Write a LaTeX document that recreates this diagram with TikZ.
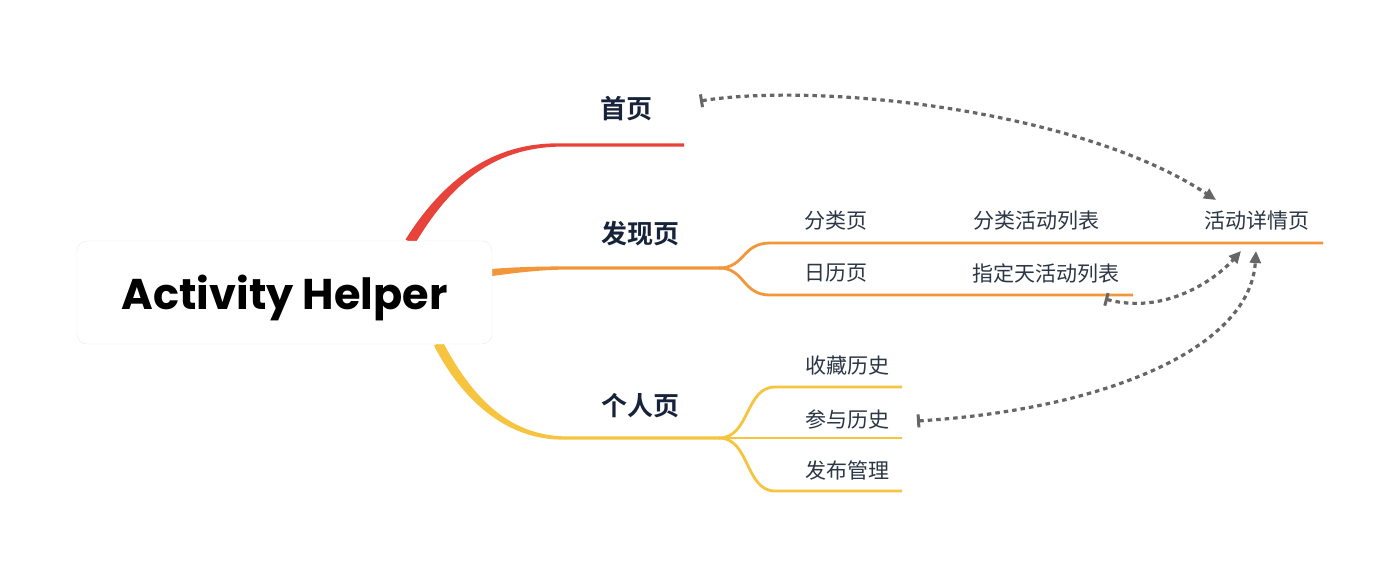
\documentclass[tikz,border=0pt]{standalone}
\usepackage{fontspec}
\setmainfont{Poppins}
\newfontfamily\cjk{Noto Sans CJK SC}
\newfontfamily\cjkb{Noto Sans CJK SC Bold}
\usetikzlibrary{arrows.meta}
\definecolor{cred}{HTML}{E8433A}
\definecolor{corange}{HTML}{F2963A}
\definecolor{cyellow}{HTML}{F6C43F}
\definecolor{navy}{HTML}{17233A}
\definecolor{subtxt}{HTML}{2B3646}
\definecolor{dotgray}{HTML}{666666}
\tikzset{
  mainlbl/.style={font=\cjkb\fontsize{26}{30}\selectfont, text=navy, inner sep=0pt},
  sublbl/.style={font=\cjk\fontsize{21}{25}\selectfont, text=subtxt, inner sep=0pt},
  link/.style={draw=dotgray, line width=3.2pt, dash pattern=on 4.5pt off 4pt,
    {Bar[width=13pt,line width=3pt]}-{Triangle[length=12pt,width=11pt]}},
  obranch/.style={draw=corange, line width=2.8pt},
  ybranch/.style={draw=cyellow, line width=2.8pt},
}
\begin{document}
\begin{tikzpicture}[x=1pt,y=-1pt]
\useasboundingbox[fill=white] (0,0) rectangle (1400,570);

% red branch (tapered)
\fill[cred] (405.5,239.5) .. controls (441.5,182.5) and (490,142.2) .. (560,143.4)
  -- (684,143.4) -- (684,146.6) -- (560,146.6)
  .. controls (490,147.8) and (448.5,187.5) .. (414.5,244.5) -- cycle;
% yellow branch (tapered)
\fill[cyellow] (434,345.5) .. controls (460.5,397.5) and (505,440.8) .. (565,439.6)
  -- (720,439.6) -- (720,436.4) -- (565,436.4)
  .. controls (505,435.2) and (469.5,392.5) .. (442,340.5) -- cycle;
% orange branch (tapered)
\fill[corange] (492,269) .. controls (515,267) and (540,266.4) .. (568,266.4)
  -- (720,266.4) -- (720,269.6) -- (568,269.6)
  .. controls (540,269.6) and (515,273) .. (492,276) -- cycle;

% central node
\node[draw=black!8, fill=white, rounded corners=10pt, minimum width=415pt,
  minimum height=103pt, inner sep=0pt, text depth=0pt,
  font=\bfseries\fontsize{43}{50}\selectfont] (root) at (284.5,292.5) {\raisebox{-0.5pt}{Activity Helper}};

% main labels
\node[mainlbl] (home) at (626,109) {首页};
\node[mainlbl] (discover) at (640,234) {发现页};
\node[mainlbl] (personal) at (640,406) {个人页};

% orange sub-branches
\coordinate (osplit) at (719,268);
\draw[obranch] (osplit) .. controls (745,268) and (742,243) .. (770,243) -- (1323,243);
\draw[obranch] (osplit) .. controls (745,268) and (742,295) .. (770,295) -- (1133,295);
% yellow sub-branches
\coordinate (ysplit) at (719,438);
\draw[ybranch] (ysplit) .. controls (750,438) and (745,387) .. (775,387) -- (902,387);
\draw[ybranch] (ysplit) -- (902,438);
\draw[ybranch] (ysplit) .. controls (750,438) and (745,491) .. (775,491) -- (902,491);

% sub labels
\node[sublbl] (cat) at (836,221) {分类页};
\node[sublbl] (catlist) at (1036,221) {分类活动列表};
\node[sublbl] (detail) at (1257,221) {活动详情页};
\node[sublbl] (cal) at (836,273) {日历页};
\node[sublbl] (daylist) at (1046,273) {指定天活动列表};
\node[sublbl] (fav) at (847,366) {收藏历史};
\node[sublbl] (joined) at (847,419) {参与历史};
\node[sublbl] (manage) at (847,471) {发布管理};

% link end points
\coordinate (homeR) at (700,101);
\coordinate (detailTL) at (1216,200);
\coordinate (daylistB) at (1105,299);
\coordinate (detailB1) at (1241,251);
\coordinate (joinedR) at (917,421);
\coordinate (detailB2) at (1256,251);

\draw[link] (homeR) .. controls (820,82) and (1080,110) .. (detailTL);
\draw[link] (daylistB) .. controls (1165,315) and (1215,280) .. (detailB1);
\draw[link] (joinedR) .. controls (1100,410) and (1250,350) .. (detailB2);
\end{tikzpicture}
\end{document}
